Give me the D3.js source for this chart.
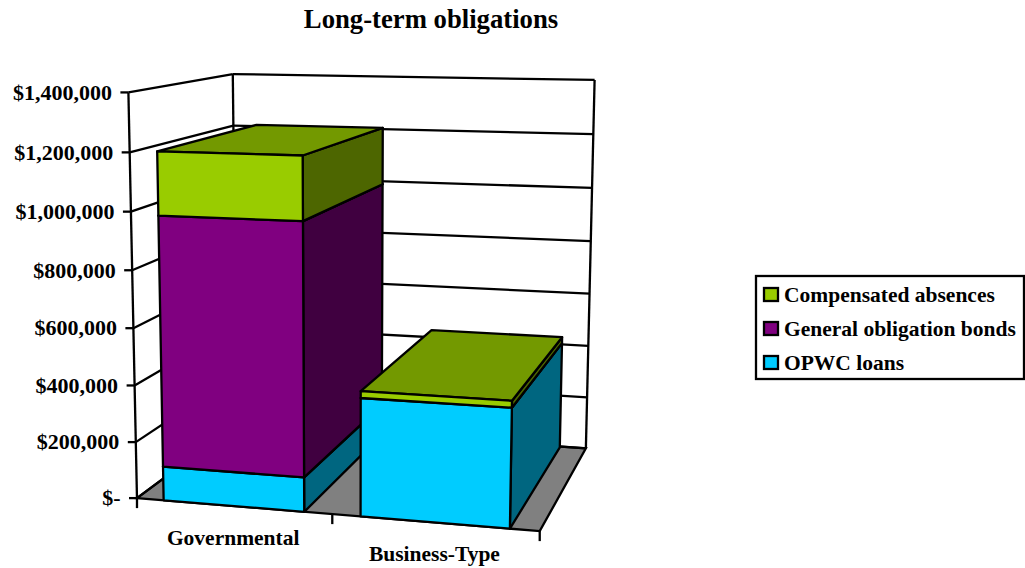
<!DOCTYPE html>
<html>
<head>
<meta charset="utf-8">
<script src="https://cdn.jsdelivr.net/npm/d3@7"></script>
<style>
    html, body { margin: 0; padding: 0; background: #fff; }
    svg { display: block; }
    text { font-family: "Liberation Serif", "Times New Roman", serif; font-weight: bold; fill: #000; }
    .wall line, .edge { stroke: #000; stroke-width: 2.3; }
</style>
</head>
<body>
<div id="chart"></div>
<script>
const categories = ["Governmental", "Business-Type"];
const seriesNames = ["OPWC loans", "General obligation bonds", "Compensated absences"];
const opwcLoans = [120000, 407000];
const generalBonds = [870000, 0];
const compensatedAbsences = [216000, 23000];
const yTicks = [0, 200000, 400000, 600000, 800000, 1000000, 1200000, 1400000];
const yTickLabels = ["$-", "$200,000", "$400,000", "$600,000", "$800,000", "$1,000,000", "$1,200,000", "$1,400,000"];

const seriesValues = [opwcLoans, generalBonds, compensatedAbsences];
const colors = [
    {front: "#00ccff", side: "#006680", top: "#0099bf"},
    {front: "#800080", side: "#400040", top: "#600060"},
    {front: "#99cc00", side: "#4d6600", top: "#739900"}
];
const legendOrder = [2, 1, 0];

const width = 1025;
const height = 568;

const svg = d3.select("#chart")
    .append("svg")
    .attr("width", width)
    .attr("height", height);

/*
PROJECTION: the chart box is a unit cube (x, y, z), fitted to where its
corners sit in the picture
*/
const anchors = [
    [0, 0, 0, 138, 498],
    [1, 0, 0, 539, 531],
    [1, 0, 1, 586.5, 448],
    [1, 1, 1, 594.5, 80],
    [0, 1, 1, 233.5, 74.5],
    [0, 1, 0, 127.5, 92],
    [0, 0, 1, 235.5, 424],
    [0.5, 0, 0, 332.5, 515],
    [0, 4 / 7, 0, 132.5, 270]
];

function solve(A, b) {
    const n = b.length;
    const M = A.map((row, i) => row.concat(b[i]));
    for (let i = 0; i < n; i++) {
        let p = i;
        for (let r = i + 1; r < n; r++) if (Math.abs(M[r][i]) > Math.abs(M[p][i])) p = r;
        [M[i], M[p]] = [M[p], M[i]];
        for (let r = 0; r < n; r++) {
            if (r === i) continue;
            const f = M[r][i] / M[i][i];
            for (let c = i; c <= n; c++) M[r][c] -= f * M[i][c];
        }
    }
    return M.map((row, i) => row[n] / row[i]);
}

function fitCamera(points) {
    const rows = [], rhs = [];
    points.forEach(([x, y, z, u, v]) => {
        rows.push([x, y, z, 1, 0, 0, 0, 0, -u * x, -u * y, -u * z]); rhs.push(u);
        rows.push([0, 0, 0, 0, x, y, z, 1, -v * x, -v * y, -v * z]); rhs.push(v);
    });
    const AtA = d3.range(11).map(i => d3.range(11).map(j => d3.sum(rows, r => r[i] * r[j])));
    const Atb = d3.range(11).map(i => d3.sum(rows, (r, k) => r[i] * rhs[k]));
    return solve(AtA, Atb);
}

const cam = fitCamera(anchors);
function project(x, y, z) {
    const w = cam[8] * x + cam[9] * y + cam[10] * z + 1;
    return [(cam[0] * x + cam[1] * y + cam[2] * z + cam[3]) / w,
            (cam[4] * x + cam[5] * y + cam[6] * z + cam[7]) / w];
}

/*
SCALES
*/
const yScale = d3.scaleLinear().domain([0, 1400000]).range([0, 1]);
const xScale = d3.scaleBand().domain(categories).range([0, 1]).paddingInner(0.28).paddingOuter(0.14);
const xOuter = d3.scaleBand().domain(categories).range([0, 1]);
const zFront = 0.0;
const zBack = 0.99;

const face = pts => "M" + pts.map(p => project(p[0], p[1], p[2]).join(",")).join("L") + "Z";

/*
WALLS + FLOOR
*/
const wall = svg.append("g").attr("class", "wall");

svg.insert("path", ".wall")
    .attr("d", face([[0, 0, 0], [1, 0, 0], [1, 0, 1], [0, 0, 1]]))
    .attr("fill", "#808080")
    .attr("class", "edge");

const segment = (a, b) => {
    const p = project(...a), q = project(...b);
    wall.append("line").attr("x1", p[0]).attr("y1", p[1]).attr("x2", q[0]).attr("y2", q[1]);
};

yTicks.forEach(t => {
    const y = yScale(t);
    segment([0, y, 0], [0, y, 1]);
    segment([0, y, 1], [1, y, 1]);
});
segment([0, 0, 0], [0, 1, 0]);
segment([0, 0, 1], [0, 1, 1]);
segment([1, 0, 1], [1, 1, 1]);

/*
AXIS TICKS + LABELS
*/
yTicks.forEach((t, i) => {
    const p = project(0, yScale(t), 0);
    wall.append("line").attr("x1", p[0] - 8).attr("y1", p[1]).attr("x2", p[0]).attr("y2", p[1]);
    svg.append("text")
        .attr("x", p[0] - 16.5)
        .attr("y", p[1])
        .attr("dy", "0.33em")
        .attr("text-anchor", "end")
        .style("font-size", "22px")
        .text(yTickLabels[i]);
});

[0, 0.5, 1].forEach(x => {
    const p = project(x, 0, 0);
    wall.append("line").attr("x1", p[0]).attr("y1", p[1]).attr("x2", p[0]).attr("y2", p[1] + 10);
});

categories.forEach(c => {
    const p = project(xOuter(c) + xOuter.bandwidth() / 2, 0, 0);
    svg.append("text")
        .attr("x", p[0])
        .attr("y", p[1] + 39)
        .attr("text-anchor", "middle")
        .style("font-size", "21.5px")
        .text(c);
});

/*
STACKED BOXES
*/
const stack = d3.stack().keys([0, 1, 2]).value((d, k) => seriesValues[k][d]);
const layers = stack(categories.map((c, i) => i));

categories.forEach((c, i) => {
    const x0 = xScale(c);
    const x1 = x0 + xScale.bandwidth();
    layers.forEach((layer, k) => {
        const [v0, v1] = layer[i];
        if (v1 === v0) return;
        const y0 = yScale(v0), y1 = yScale(v1);
        const g = svg.append("g").attr("class", "edge").attr("stroke-linejoin", "round");
        g.append("path").attr("d", face([[x1, y0, zFront], [x1, y0, zBack], [x1, y1, zBack], [x1, y1, zFront]])).attr("fill", colors[k].side);
        g.append("path").attr("d", face([[x0, y1, zFront], [x1, y1, zFront], [x1, y1, zBack], [x0, y1, zBack]])).attr("fill", colors[k].top);
        g.append("path").attr("d", face([[x0, y0, zFront], [x1, y0, zFront], [x1, y1, zFront], [x0, y1, zFront]])).attr("fill", colors[k].front);
    });
});

/*
TITLE
*/
svg.append("text")
    .attr("x", 431)
    .attr("y", 28)
    .attr("text-anchor", "middle")
    .style("font-size", "26.7px")
    .text("Long-term obligations");

/*
LEGEND
*/
const legend = svg.append("g").attr("transform", "translate(756,276)");

legend.append("rect")
    .attr("width", 268)
    .attr("height", 103)
    .attr("fill", "#fff")
    .attr("stroke", "#000")
    .attr("stroke-width", 2.3);

const rows = legend.selectAll("g")
    .data(legendOrder)
    .enter()
    .append("g")
    .attr("transform", (d, i) => `translate(0,${19 + i * 34})`);

rows.append("rect")
    .attr("x", 8)
    .attr("y", -7)
    .attr("width", 14)
    .attr("height", 13)
    .attr("fill", d => colors[d].front)
    .attr("stroke", "#000")
    .attr("stroke-width", 2.3);

rows.append("text")
    .attr("x", 28)
    .attr("dy", "0.33em")
    .style("font-size", "21.5px")
    .text(d => seriesNames[d]);
</script>
</body>
</html>
